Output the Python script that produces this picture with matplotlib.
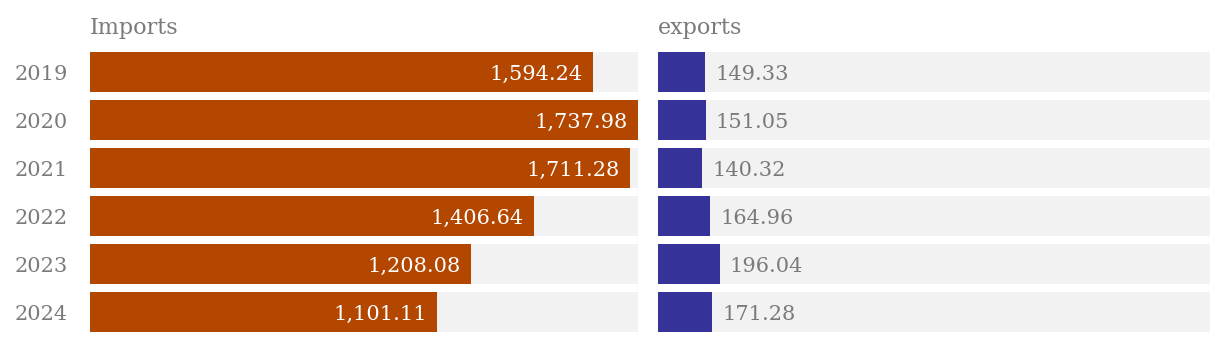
import matplotlib.pyplot as plt
from matplotlib.transforms import offset_copy

years = ['2019', '2020', '2021', '2022', '2023', '2024']
imports = [1594.24, 1737.98, 1711.28, 1406.64, 1208.08, 1101.11]
exports = [149.33, 151.05, 140.32, 164.96, 196.04, 171.28]

W, H = 1220, 342
plt.rcParams['font.family'] = ['DejaVu Serif']
fig = plt.figure(figsize=(W / 100, H / 100), dpi=100)

grey = '#7a7a7a'
track = '#f2f2f2'
top = 48
bottom = 336
xmax = max(imports)


def panel(x0, x1, vals, color, title, inside):
    ax = fig.add_axes([x0 / W, (H - bottom) / H, (x1 - x0) / W, (bottom - top) / H])
    ypos = list(range(len(vals)))
    ax.barh(ypos, [xmax * (x1 - x0) / 548] * len(vals), height=40 / 48, color=track, left=0)
    ax.barh(ypos, vals, height=40 / 48, color=color)
    ax.set_xlim(0, xmax * (x1 - x0) / 548)
    ax.set_ylim(len(vals) - 0.5, -0.5)
    ax.axis('off')
    for y, v in zip(ypos, vals):
        if inside:
            tr = offset_copy(ax.transData, fig=fig, x=-10 * 0.72, y=-2 * 0.72, units='points')
            ax.text(v, y, f'{v:,.2f}', transform=tr, ha='right', va='center',
                    color='white', fontsize=15)
        else:
            tr = offset_copy(ax.transData, fig=fig, x=10 * 0.72, y=-2 * 0.72, units='points')
            ax.text(v, y, f'{v:,.2f}', transform=tr, ha='left', va='center',
                    color=grey, fontsize=15)
    fig.text(x0 / W, (H - 28) / H, title, ha='left', va='center', color=grey, fontsize=16)
    return ax


panel(90, 638, imports, '#b34700', 'Imports', True)
panel(658, 1210, exports, '#35339a', 'exports', False)

for i, yr in enumerate(years):
    fig.text(68 / W, (H - (74 + 48 * i)) / H, yr, ha='right', va='center', color=grey, fontsize=15)

fig.savefig('out.png', dpi=100)
